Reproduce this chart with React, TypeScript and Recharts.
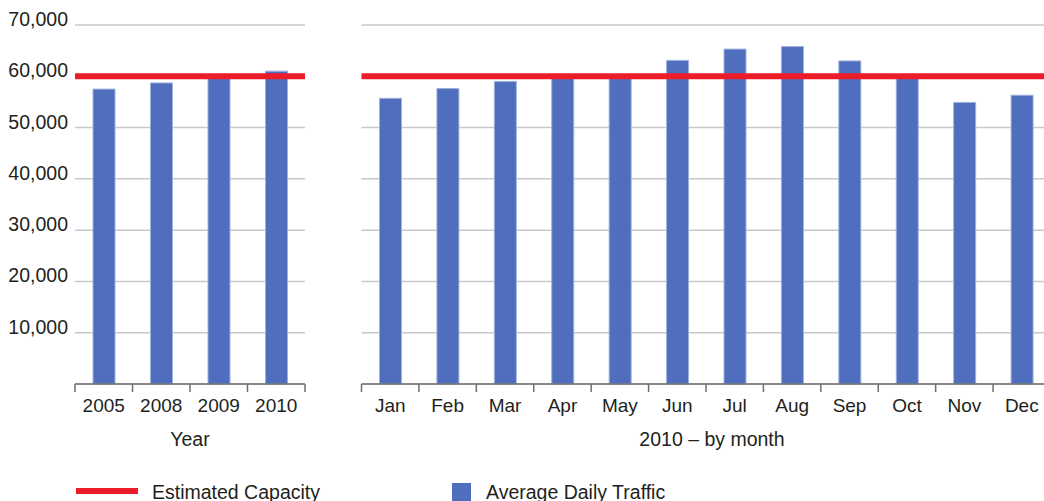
import React from 'react';
import { BarChart, Bar, XAxis, YAxis, CartesianGrid, ReferenceLine } from 'recharts';

const years = ['2005', '2008', '2009', '2010'];
const yearTraffic = [57500, 58700, 59900, 61000];
const months = ['Jan', 'Feb', 'Mar', 'Apr', 'May', 'Jun', 'Jul', 'Aug', 'Sep', 'Oct', 'Nov', 'Dec'];
const monthTraffic = [55700, 57600, 59000, 59900, 59900, 63100, 65300, 65800, 63000, 59900, 54900, 56300];
const yTicks = [0, 10000, 20000, 30000, 40000, 50000, 60000, 70000];
const capacityLevel = [60000];
const axisTitles = ['Year', '2010 – by month'];
const legendLabels = ['Estimated Capacity', 'Average Daily Traffic'];

const yearData = years.map((name, i) => ({ name, traffic: yearTraffic[i] }));
const monthData = months.map((name, i) => ({ name, traffic: monthTraffic[i] }));

const FONT = '"Liberation Sans", Arial, Helvetica, sans-serif';
const TEXT = '#231f20';
const BAR = '#4F6EBD';
const RED = '#EC1C29';
const GRID = '#c9c9c9';
const AXIS = '#6e6e6e';
const FS = 19;

const makeXTick = (bw: number, count: number) => (props: any) => {
  const { x, y, payload, index } = props;
  return (
    <g>
      <line x1={x - bw / 2} x2={x - bw / 2} y1={y} y2={y + 8} stroke={AXIS} strokeWidth={1.5} />
      {index === count - 1 && (
        <line x1={x + bw / 2} x2={x + bw / 2} y1={y} y2={y + 8} stroke={AXIS} strokeWidth={1.5} />
      )}
      <text x={x} y={y + 27.5} textAnchor="middle" fontSize={FS} fontFamily={FONT} fill={TEXT}>
        {payload.value}
      </text>
    </g>
  );
};

const YTick = (props: any) => {
  const { x, y, payload } = props;
  if (payload.value === 0) return <g />;
  return (
    <text x={x - 7} y={y + 1} textAnchor="end" fontSize={FS + 0.5} fontFamily={FONT} fill={TEXT}>
      {Number(payload.value).toLocaleString('en-US')}
    </text>
  );
};

const TitleLabel = (text: string, dx: number) => (props: any) => {
  const vb = props.viewBox || {};
  const cx = vb.x + vb.width / 2 + dx;
  return (
    <text x={cx} y={445.5} textAnchor="middle" fontSize={FS + 0.5} fontFamily={FONT} fill={TEXT}>
      {text}
    </text>
  );
};

const LEFT_W = 230;
const RIGHT_W = 689;

export default function App() {
  return (
    <div
      style={{
        position: 'absolute',
        left: 0,
        top: 0,
        width: 1044,
        height: 501,
        overflow: 'hidden',
        background: '#fff',
        fontFamily: FONT,
      }}
    >
      <div style={{ position: 'absolute', left: 0, top: 0 }}>
        <BarChart width={310} height={460} data={yearData} margin={{ top: 25, right: 5, left: 0, bottom: 0 }}>
          <CartesianGrid vertical={false} stroke={GRID} strokeWidth={1.5} />
          <YAxis
            width={75}
            domain={[0, 70000]}
            ticks={yTicks}
            axisLine={false}
            tickLine={false}
            tickSize={0}
            tickMargin={0}
            tick={YTick}
          />
          <XAxis
            dataKey="name"
            height={76}
            tickLine={false}
            tickSize={0}
            tickMargin={0}
            axisLine={{ stroke: AXIS, strokeWidth: 1.5 }}
            tick={makeXTick(LEFT_W / years.length, years.length)}
            interval={0}
            label={{ content: TitleLabel(axisTitles[0], 0) }}
          />
          <Bar dataKey="traffic" fill={BAR} stroke="#9fb0dc" strokeWidth={1} barSize={22} isAnimationActive={false} />
          <ReferenceLine y={capacityLevel[0]} stroke={RED} strokeWidth={6} />
        </BarChart>
      </div>
      <div style={{ position: 'absolute', left: 340, top: 0 }}>
        <BarChart width={720} height={460} data={monthData} margin={{ top: 25, right: 9.5, left: 21.5, bottom: 0 }}>
          <CartesianGrid vertical={false} stroke={GRID} strokeWidth={1.5} />
          <YAxis hide domain={[0, 70000]} ticks={yTicks} />
          <XAxis
            dataKey="name"
            height={76}
            tickLine={false}
            tickSize={0}
            tickMargin={0}
            axisLine={{ stroke: AXIS, strokeWidth: 1.5 }}
            tick={makeXTick(RIGHT_W / months.length, months.length)}
            interval={0}
            label={{ content: TitleLabel(axisTitles[1], 6) }}
          />
          <Bar dataKey="traffic" fill={BAR} stroke="#9fb0dc" strokeWidth={1} barSize={22} isAnimationActive={false} />
          <ReferenceLine y={capacityLevel[0]} stroke={RED} strokeWidth={6} />
        </BarChart>
      </div>
      <div style={{ position: 'absolute', left: 0, top: 470 }}>
        <svg width={1044} height={31}>
          <line x1={76} x2={138} y1={21} y2={21} stroke={RED} strokeWidth={6} />
          <text x={152} y={28.5} fontSize={FS + 0.5} fontFamily={FONT} fill={TEXT}>
            {legendLabels[0]}
          </text>
          <rect x={452} y={13} width={19} height={20} fill={BAR} />
          <text x={486} y={28.5} fontSize={FS + 0.5} fontFamily={FONT} fill={TEXT}>
            {legendLabels[1]}
          </text>
        </svg>
      </div>
    </div>
  );
}
